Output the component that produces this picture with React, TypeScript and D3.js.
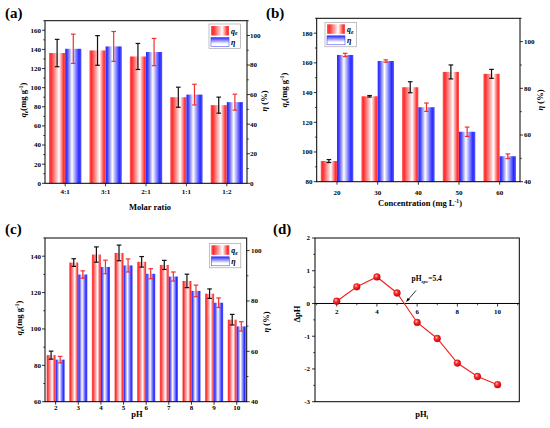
import React from "react";
import * as d3 from "d3";

// ---------- DATA ----------
const ratioCats = ["4:1", "3:1", "2:1", "1:1", "1:2"];
const ratioQe = [136.2, 138.9, 132.6, 90.0, 81.7];
const ratioQeErr = [14.3, 15.5, 13.6, 10.5, 8.4];
const ratioEta = [91.0, 92.6, 88.8, 60.0, 54.9];
const ratioEtaErr = [9.9, 10.1, 9.2, 7.0, 5.4];

const concCats = [20, 30, 40, 50, 60];
const concQe = [93.9, 137.5, 143.6, 153.9, 152.6];
const concQeErr = [1.0, 0.5, 3.7, 4.7, 3.0];
const concEta = [94.3, 91.7, 71.9, 61.4, 50.9];
const concEtaErr = [0.7, 0.5, 1.8, 2.0, 1.0];

const phCats = [2, 3, 4, 5, 6, 7, 8, 9, 10];
const phQe = [85.6, 136.5, 140.9, 141.8, 136.9, 135.2, 126.4, 119.4, 105.1];
const phQeErr = [2.2, 2.1, 4.2, 4.3, 2.9, 2.5, 3.7, 2.6, 2.9];
const phEta = [56.7, 90.5, 93.5, 94.1, 90.8, 89.7, 84.0, 79.3, 69.9];
const phEtaErr = [1.3, 1.45, 2.7, 2.6, 2.0, 1.8, 2.3, 1.9, 1.85];

const pzcX = [2, 3, 4, 5, 6, 7, 8, 9, 10];
const pzcY = [0.07, 0.51, 0.81, 0.32, -0.58, -1.07, -1.82, -2.23, -2.48];

const FONT = "'Liberation Serif', 'DejaVu Serif', serif";
const TICK_FS = 7;
const TITLE_FS = 8.5;

type Frame = { l: number; r: number; t: number; b: number };

const QeLabel = ({ x, y }: { x: number; y: number }) => (
  <text
    transform={`translate(${x},${y}) rotate(-90)`}
    textAnchor="middle"
    fontFamily={FONT}
    fontWeight="bold"
    fontSize={TITLE_FS}
  >
    <tspan fontStyle="italic">q</tspan>
    <tspan fontStyle="italic" fontSize={5.5} dy={2}>e</tspan>
    <tspan dy={-2}>(mg g</tspan>
    <tspan fontSize={5.5} dy={-3}>-1</tspan>
    <tspan dy={3}>)</tspan>
  </text>
);

const EtaLabel = ({ x, y }: { x: number; y: number }) => (
  <text
    transform={`translate(${x},${y}) rotate(-90)`}
    textAnchor="middle"
    fontFamily={FONT}
    fontWeight="bold"
    fontSize={TITLE_FS}
  >
    <tspan fontStyle="italic">η</tspan>
    <tspan> (%)</tspan>
  </text>
);

type BarProps = {
  frame: Frame;
  xDomain: [number, number];
  xs: number[];
  labels: string[];
  bw: number;
  leftDomain: [number, number];
  leftTicks: number[];
  leftMinor: number[];
  rightDomain: [number, number];
  rightTicks: number[];
  rightMinor: number[];
  qe: number[];
  qeErr: number[];
  eta: number[];
  etaErr: number[];
  legend: { x: number; y: number };
  leftTitle: { x: number; y: number };
  rightTitle: { x: number; y: number };
  xTitle: React.ReactNode;
  xTitlePos: { x: number; y: number };
  xLabelY: number;
  rightLabelX: number;
  leftLabelX: number;
};

const BarPanel = (p: BarProps) => {
  const { l, r, t, b } = p.frame;
  const x = d3.scaleLinear().domain(p.xDomain).range([l, r]);
  const yL = d3.scaleLinear().domain(p.leftDomain).range([b, t]);
  const yR = d3.scaleLinear().domain(p.rightDomain).range([b, t]);
  const bwPx = x(p.xDomain[0] + p.bw) - x(p.xDomain[0]);
  const cap = 2.3;
  return (
    <g>
      {p.xs.map((c, i) => {
        const xr = x(c) - bwPx;
        const xb = x(c);
        const qTop = yL(p.qe[i]);
        const eTop = yR(p.eta[i]);
        return (
          <g key={i}>
            <rect x={xr} y={qTop} width={bwPx} height={b - qTop} fill="url(#redGrad)" />
            <rect x={xb} y={eTop} width={bwPx} height={b - eTop} fill="url(#blueGrad)" />
          </g>
        );
      })}
      {p.xs.map((c, i) => {
        const cx1 = x(c) - bwPx / 2;
        const cx2 = x(c) + bwPx / 2;
        const q1 = yL(p.qe[i] + p.qeErr[i]);
        const q2 = yL(p.qe[i] - p.qeErr[i]);
        const e1 = yR(p.eta[i] + p.etaErr[i]);
        const e2 = yR(p.eta[i] - p.etaErr[i]);
        return (
          <g key={"e" + i} strokeWidth={1.2}>
            <g stroke="#111">
              <line x1={cx1} x2={cx1} y1={q1} y2={q2} />
              <line x1={cx1 - cap} x2={cx1 + cap} y1={q1} y2={q1} />
              <line x1={cx1 - cap} x2={cx1 + cap} y1={q2} y2={q2} />
            </g>
            <g stroke="#f03030">
              <line x1={cx2} x2={cx2} y1={e1} y2={e2} />
              <line x1={cx2 - cap} x2={cx2 + cap} y1={e1} y2={e1} />
              <line x1={cx2 - cap} x2={cx2 + cap} y1={e2} y2={e2} />
            </g>
          </g>
        );
      })}
      <rect x={l} y={t} width={r - l} height={b - t} fill="none" stroke="#000" strokeWidth={1} />
      {/* left ticks */}
      {p.leftTicks.map((v) => (
        <g key={"lt" + v}>
          <line x1={l - 3} x2={l} y1={yL(v)} y2={yL(v)} stroke="#000" strokeWidth={0.8} />
          <text x={p.leftLabelX} y={yL(v) + 2.4} textAnchor="end" fontFamily={FONT} fontWeight="bold" fontSize={TICK_FS}>
            {v}
          </text>
        </g>
      ))}
      {p.leftMinor.map((v) => (
        <line key={"lm" + v} x1={l - 1.8} x2={l} y1={yL(v)} y2={yL(v)} stroke="#000" strokeWidth={0.7} />
      ))}
      {p.rightTicks.map((v) => (
        <g key={"rt" + v}>
          <line x1={r} x2={r + 3} y1={yR(v)} y2={yR(v)} stroke="#000" strokeWidth={0.8} />
          <text x={p.rightLabelX} y={yR(v) + 2.4} textAnchor="start" fontFamily={FONT} fontWeight="bold" fontSize={TICK_FS}>
            {v}
          </text>
        </g>
      ))}
      {p.rightMinor.map((v) => (
        <line key={"rm" + v} x1={r} x2={r + 1.8} y1={yR(v)} y2={yR(v)} stroke="#000" strokeWidth={0.7} />
      ))}
      {p.xs.map((c, i) => (
        <g key={"xt" + i}>
          <line x1={x(c)} x2={x(c)} y1={b} y2={b + 3} stroke="#000" strokeWidth={0.8} />
          <text x={x(c)} y={p.xLabelY} textAnchor="middle" fontFamily={FONT} fontWeight="bold" fontSize={TICK_FS}>
            {p.labels[i]}
          </text>
        </g>
      ))}
      <QeLabel x={p.leftTitle.x} y={p.leftTitle.y} />
      <EtaLabel x={p.rightTitle.x} y={p.rightTitle.y} />
      <text x={p.xTitlePos.x} y={p.xTitlePos.y} textAnchor="middle" fontFamily={FONT} fontWeight="bold" fontSize={TITLE_FS}>
        {p.xTitle}
      </text>
      {/* legend */}
      <g transform={`translate(${p.legend.x},${p.legend.y})`}>
        <rect x={0} y={0} width={31.5} height={24.5} fill="#fff" stroke="#999" strokeWidth={0.6} />
        <rect x={2} y={2} width={18} height={9.5} fill="url(#redGrad)" />
        <rect x={2} y={13.5} width={18} height={9} fill="url(#blueLegGrad)" stroke="#3333ff" strokeWidth={0.5} />
        <text x={22} y={9.5} fontFamily={FONT} fontWeight="bold" fontStyle="italic" fontSize={8}>
          q<tspan fontSize={5.5} dy={1.8}>e</tspan>
        </text>
        <text x={22} y={21} fontFamily={FONT} fontWeight="bold" fontStyle="italic" fontSize={8}>
          η
        </text>
      </g>
    </g>
  );
};

const PzcPanel = () => {
  const l = 315, r = 519.3, t = 238, b = 401.7;
  const x = d3.scaleLinear().domain([0.92, 11.08]).range([l, r]);
  const y = d3.scaleLinear().domain([-3, 2]).range([b, t]);
  const line = d3
    .line<number>()
    .x((_, i) => x(pzcX[i]))
    .y((d) => y(d));
  const yTicks = [-3, -2, -1, 0, 1, 2];
  const yMinor = [-2.5, -1.5, -0.5, 0.5, 1.5];
  const xTicks = [2, 4, 6, 8, 10];
  const xMinor = [1, 3, 5, 7, 9, 11].filter((v) => x(v) > l && x(v) < r);
  const y0 = y(0);
  return (
    <g>
      <rect x={l} y={t} width={r - l} height={b - t} fill="none" stroke="#000" strokeWidth={1} />
      <line x1={l} x2={r} y1={y0} y2={y0} stroke="#000" strokeWidth={1} />
      {yTicks.map((v) => (
        <g key={"y" + v}>
          <line x1={l - 3} x2={l} y1={y(v)} y2={y(v)} stroke="#000" strokeWidth={0.8} />
          <text x={l - 5} y={y(v) + 2.4} textAnchor="end" fontFamily={FONT} fontWeight="bold" fontSize={TICK_FS}>
            {v}
          </text>
        </g>
      ))}
      {yMinor.map((v) => (
        <line key={"ym" + v} x1={l - 1.8} x2={l} y1={y(v)} y2={y(v)} stroke="#000" strokeWidth={0.7} />
      ))}
      {xTicks.map((v) => (
        <g key={"x" + v}>
          <line x1={x(v)} x2={x(v)} y1={y0} y2={y0 + 3} stroke="#000" strokeWidth={0.8} />
          <text x={x(v)} y={y0 + 10.5} textAnchor="middle" fontFamily={FONT} fontWeight="bold" fontSize={TICK_FS}>
            {v}
          </text>
        </g>
      ))}
      {xMinor.map((v) => (
        <line key={"xm" + v} x1={x(v)} x2={x(v)} y1={y0} y2={y0 + 1.8} stroke="#000" strokeWidth={0.7} />
      ))}
      <path d={line(pzcY) || ""} fill="none" stroke="#f02020" strokeWidth={1.1} />
      {pzcY.map((v, i) => (
        <circle key={"p" + i} cx={x(pzcX[i])} cy={y(v)} r={3.4} fill="url(#ballGrad)" stroke="#d00000" strokeWidth={0.4} />
      ))}
      <line x1={416} y1={290.5} x2={406.5} y2={301.5} stroke="#000" strokeWidth={0.8} markerEnd="url(#arrowHead)" />
      <text x={411.5} y={281} fontFamily={FONT} fontWeight="bold" fontSize={7.5}>
        pH<tspan fontSize={5} dy={2} fontStyle="italic">zpc</tspan>
        <tspan dy={-2}>=5.4</tspan>
      </text>
      <text
        transform={`translate(${300},${314}) rotate(-90)`}
        textAnchor="middle"
        fontFamily={FONT}
        fontWeight="bold"
        fontSize={TITLE_FS}
      >
        ΔpH
      </text>
      <text x={421.7} y={417} textAnchor="middle" fontFamily={FONT} fontWeight="bold" fontSize={TITLE_FS}>
        pH<tspan fontSize={5.5} dy={2}>i</tspan>
      </text>
    </g>
  );
};

const range = (a: number, b: number, s: number) => d3.range(a, b + 1e-9, s);

export default function App() {
  return (
    <div style={{ position: "fixed", left: 0, top: 0, width: 550, height: 428, background: "#fff" }}>
      <svg width={550} height={428} viewBox="0 0 550 428" style={{ display: "block" }}>
        <defs>
          <linearGradient id="redGrad" x1="0" x2="1" y1="0" y2="0">
            <stop offset="0" stopColor="#ff6060" />
            <stop offset="0.12" stopColor="#ff2a2a" />
            <stop offset="0.62" stopColor="#ffffff" />
            <stop offset="0.9" stopColor="#ff3030" />
            <stop offset="1" stopColor="#ff5050" />
          </linearGradient>
          <linearGradient id="blueGrad" x1="0" x2="1" y1="0" y2="0">
            <stop offset="0" stopColor="#2525ff" />
            <stop offset="0.12" stopColor="#4040ff" />
            <stop offset="0.42" stopColor="#ffffff" />
            <stop offset="0.85" stopColor="#2a2aff" />
            <stop offset="1" stopColor="#5555ff" />
          </linearGradient>
          <linearGradient id="blueLegGrad" x1="0" x2="0" y1="0" y2="1">
            <stop offset="0" stopColor="#2a2aff" />
            <stop offset="0.7" stopColor="#ffffff" />
            <stop offset="1" stopColor="#ffffff" />
          </linearGradient>
          <radialGradient id="ballGrad" cx="0.38" cy="0.35" r="0.7">
            <stop offset="0" stopColor="#ffd0d0" />
            <stop offset="0.35" stopColor="#ff3030" />
            <stop offset="1" stopColor="#c00000" />
          </radialGradient>
          <marker id="arrowHead" viewBox="0 0 10 10" refX="9" refY="5" markerWidth="5" markerHeight="5" orient="auto">
            <path d="M0,1 L10,5 L0,9 z" fill="#000" />
          </marker>
        </defs>

        {/* panel labels */}
        <text x={5} y={18} fontFamily={FONT} fontWeight="bold" fontSize={15}>(a)</text>
        <text x={266} y={18} fontFamily={FONT} fontWeight="bold" fontSize={15}>(b)</text>
        <text x={5} y={234} fontFamily={FONT} fontWeight="bold" fontSize={15}>(c)</text>
        <text x={273} y={234} fontFamily={FONT} fontWeight="bold" fontSize={15}>(d)</text>

        <BarPanel
          frame={{ l: 45, r: 247, t: 20.7, b: 183.3 }}
          xDomain={[-0.5, 4.5]}
          xs={ratioCats.map((_, i) => i)}
          labels={ratioCats}
          bw={0.4}
          leftDomain={[0, 170]}
          leftTicks={range(0, 160, 20)}
          leftMinor={range(10, 170, 20)}
          rightDomain={[0, 110]}
          rightTicks={range(0, 100, 20)}
          rightMinor={range(10, 110, 20)}
          qe={ratioQe}
          qeErr={ratioQeErr}
          eta={ratioEta}
          etaErr={ratioEtaErr}
          legend={{ x: 209, y: 24 }}
          leftTitle={{ x: 26, y: 100 }}
          rightTitle={{ x: 267, y: 101 }}
          xTitle="Molar ratio"
          xTitlePos={{ x: 150, y: 209.5 }}
          xLabelY={194}
          rightLabelX={250}
          leftLabelX={41}
        />

        <BarPanel
          frame={{ l: 316.7, r: 520, t: 18.3, b: 181.7 }}
          xDomain={[15, 65]}
          xs={concCats}
          labels={concCats.map(String)}
          bw={4}
          leftDomain={[80, 190]}
          leftTicks={range(80, 180, 20)}
          leftMinor={range(90, 190, 20)}
          rightDomain={[40, 110]}
          rightTicks={range(40, 100, 20)}
          rightMinor={range(50, 110, 20)}
          qe={concQe}
          qeErr={concQeErr}
          eta={concEta}
          etaErr={concEtaErr}
          legend={{ x: 325, y: 22.3 }}
          leftTitle={{ x: 287, y: 90 }}
          rightTitle={{ x: 543, y: 100 }}
          xTitle={
            <>
              Concentration (mg L<tspan fontSize={5.5} dy={-3}>-1</tspan>
              <tspan dy={3}>)</tspan>
            </>
          }
          xTitlePos={{ x: 420, y: 206 }}
          xLabelY={195}
          rightLabelX={524}
          leftLabelX={312.5}
        />

        <BarPanel
          frame={{ l: 45, r: 246.7, t: 238, b: 401.7 }}
          xDomain={[1.53, 10.44]}
          xs={phCats}
          labels={phCats.map(String)}
          bw={0.4}
          leftDomain={[60, 150]}
          leftTicks={range(60, 140, 20)}
          leftMinor={range(70, 150, 20)}
          rightDomain={[40, 105]}
          rightTicks={range(40, 100, 20)}
          rightMinor={range(50, 100, 20)}
          qe={phQe}
          qeErr={phQeErr}
          eta={phEta}
          etaErr={phEtaErr}
          legend={{ x: 209.3, y: 243.3 }}
          leftTitle={{ x: 22, y: 318 }}
          rightTitle={{ x: 269, y: 322 }}
          xTitle="pH"
          xTitlePos={{ x: 137, y: 417 }}
          xLabelY={409.5}
          rightLabelX={251}
          leftLabelX={41}
        />

        <PzcPanel />
      </svg>
    </div>
  );
}
